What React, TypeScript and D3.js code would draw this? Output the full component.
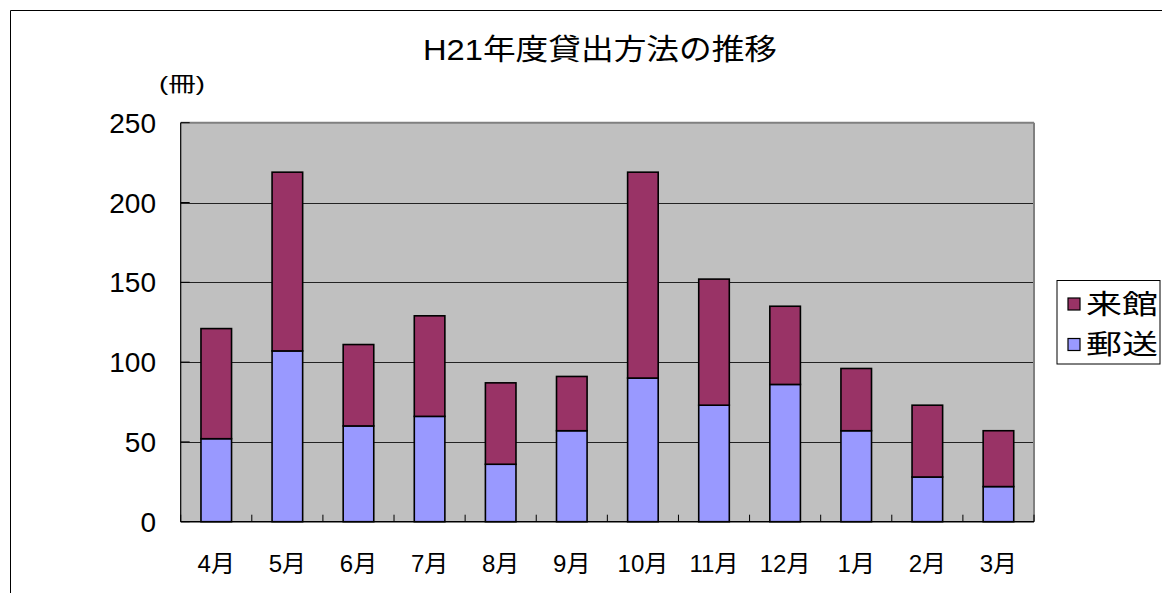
import React from 'react';
import * as d3 from 'd3';

const months = ['4月', '5月', '6月', '7月', '8月', '9月', '10月', '11月', '12月', '1月', '2月', '3月'];
const yuso = [52, 107, 60, 66, 36, 57, 90, 73, 86, 57, 28, 22];   // 郵送
const raikan = [69, 112, 51, 63, 51, 34, 129, 79, 49, 39, 45, 35]; // 来館
const yTicks = [0, 50, 100, 150, 200, 250];
const seriesNames = ['郵送', '来館'];
const seriesColors = ['#9999FF', '#993366'];

const FONT = '"Liberation Sans", Arial, "Noto Sans CJK JP", sans-serif';

const App: React.FC = () => {
  const width = 1162;
  const height = 593;
  const left = 180.7, right = 1034, top = 122.7, bottom = 521.7;

  const x = d3.scaleBand().domain(months).range([left, right]).padding(0);
  const y = d3.scaleLinear().domain([0, 250]).range([bottom, top]);
  const barW = x.bandwidth() * 0.43;

  // build rows for the stack
  const rows = months.map((m, i) => ({ month: m, 郵送: yuso[i], 来館: raikan[i] }));
  const stacked = d3.stack<any>().keys(seriesNames)(rows);

  const tickPositions = months.map(m => x(m) as number).concat([right]);

  return (
    <svg width={width} height={height} style={{ position: 'fixed', left: 0, top: 0, background: '#fff' }} fontFamily={FONT}>
      {/* chart frame */}
      <line x1={10.5} y1={10.5} x2={width} y2={10.5} stroke="#000" strokeWidth={1} />
      <line x1={10.5} y1={10.5} x2={10.5} y2={height} stroke="#000" strokeWidth={1} />

      {/* title */}
      <text x={600} y={60} textAnchor="middle" fontSize={29} fill="#000" textLength={354} lengthAdjust="spacingAndGlyphs">H21年度貸出方法の推移</text>
      <text x={182} y={91} textAnchor="middle" fontSize={21} fill="#000" textLength={46} lengthAdjust="spacingAndGlyphs">(冊)</text>

      {/* plot area */}
      <rect x={left} y={top} width={right - left} height={bottom - top} fill="#C0C0C0" />
      {yTicks.filter(t => t > 0 && t < 250).map(t => (
        <line key={t} x1={left} x2={right} y1={Math.round(y(t)) + 0.5} y2={Math.round(y(t)) + 0.5} stroke="#222" strokeWidth={1} />
      ))}
      <line x1={left} x2={right} y1={top} y2={top} stroke="#808080" strokeWidth={2} />
      <line x1={right} x2={right} y1={top} y2={bottom} stroke="#808080" strokeWidth={2} />

      {/* bars */}
      {stacked.map((layer, si) => (
        <g key={seriesNames[si]}>
          {layer.map((d, i) => (
            <rect
              key={i}
              x={(x(months[i]) as number) + (x.bandwidth() - barW) / 2}
              y={y(d[1])}
              width={barW}
              height={y(d[0]) - y(d[1])}
              fill={seriesColors[si]}
              stroke="#000"
              strokeWidth={1.6}
            />
          ))}
        </g>
      ))}

      {/* axes */}
      <line x1={left} x2={left} y1={top} y2={bottom} stroke="#000" strokeWidth={1.2} />
      <line x1={left} x2={right} y1={bottom} y2={bottom} stroke="#000" strokeWidth={1.5} />
      {tickPositions.map((p, i) => (
        <line key={i} x1={p} x2={p} y1={bottom - 7} y2={bottom} stroke="#000" strokeWidth={1} />
      ))}
      {yTicks.map(t => (
        <line key={t} x1={left} x2={left + 9} y1={y(t)} y2={y(t)} stroke="#000" strokeWidth={1} />
      ))}

      {/* y tick labels */}
      {yTicks.map(t => (
        <text key={t} x={156} y={y(t)} dy="0.36em" textAnchor="end" fontSize={28} fill="#000">{t}</text>
      ))}

      {/* x labels */}
      {months.map(m => (
        <text key={m} x={(x(m) as number) + x.bandwidth() / 2} y={572} textAnchor="middle" fontSize={24} fill="#000">{m}</text>
      ))}

      {/* legend */}
      <rect x={1057} y={280.5} width={103} height={83.5} fill="#fff" stroke="#000" strokeWidth={1} />
      {[1, 0].map((si, k) => (
        <g key={si}>
          <rect x={1068} y={298 + k * 40.5} width={12} height={12} fill={seriesColors[si]} stroke="#000" strokeWidth={1.2} />
          <text x={1086} y={304 + k * 40.5} dy="0.36em" fontSize={27} fill="#000" textLength={72} lengthAdjust="spacingAndGlyphs">{seriesNames[si]}</text>
        </g>
      ))}
    </svg>
  );
};

export default App;
